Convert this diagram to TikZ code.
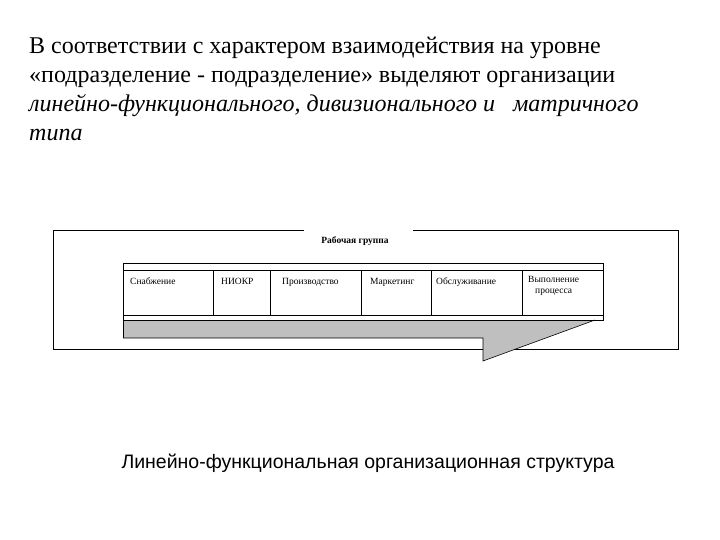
\documentclass[tikz,border=0pt]{standalone}
\usepackage{fontspec}
\setmainfont{Liberation Serif}
\newfontfamily\capfont{Liberation Sans}
\begin{document}
\begin{tikzpicture}[x=1pt,y=-1pt,
  cell/.style={font=\fontsize{9.5}{11}\selectfont,anchor=base west,inner sep=0pt,align=center},
  ln/.style={draw=black,line width=0.6pt}]
\useasboundingbox (0,0) rectangle (720,540);
\node[anchor=north west,inner sep=0pt,align=left,font=\fontsize{24}{29}\selectfont] (head) at (29,37)
 {В соответствии с характером взаимодействия на уровне\\
 «подразделение - подразделение» выделяют организации\\
 \textit{линейно-функционального, дивизионального и\ \ \ матричного}\\
 \textit{типа}};
% outer box with gap
\draw[ln] (304,230) -- (53,230) -- (53,349) -- (678,349) -- (678,230) -- (413,230);
\node[font=\bfseries\fontsize{9.5}{11}\selectfont,inner sep=0pt] (title) at (355,241) {Рабочая группа};
% gray arrow
\fill[gray!50] (123,320) -- (595,320) -- (483,361) -- (483,338) -- (123,338) -- cycle;
\draw[ln] (595,320) -- (483,361) -- (483,338) -- (123,338);
% strip
\draw[ln] (123,263) -- (603,263) -- (603,320) -- (123,320);
\draw[ln] (123,263) -- (123,338);
\draw[ln] (123,270) -- (603,270);
\draw[ln] (123,315) -- (603,315);
\foreach \x in {213,270,361,431,522} \draw[ln] (\x,270) -- (\x,315);
\node[cell] (c1) at (130,284) {Снабжение};
\node[cell] (c2) at (221,284) {НИОКР};
\node[cell] (c3) at (282,284) {Производство};
\node[cell] (c4) at (370,284) {Маркетинг};
\node[cell] (c5) at (436,284) {Обслуживание};
\node[cell,anchor=north west] (c6) at (528,276) {Выполнение\\процесса};
\node[font=\capfont\fontsize{19.5}{23}\selectfont,inner sep=0pt] (cap) at (368,463) {Линейно-функциональная организационная структура};
\end{tikzpicture}
\end{document}
